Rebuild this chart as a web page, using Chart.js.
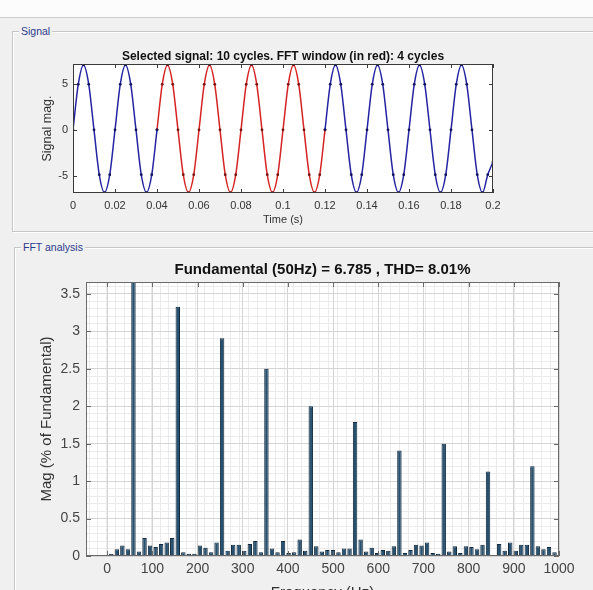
<!DOCTYPE html>
<html>
<head>
<meta charset="utf-8">
<title>Signal and FFT analysis</title>
<script src="https://cdn.jsdelivr.net/npm/chart.js@4.4.1/dist/chart.umd.min.js"></script>
<style>
  html, body { margin: 0; padding: 0; }
  body { width: 593px; height: 590px; overflow: hidden; position: relative; background: #f0f0f0; font-family: "Liberation Sans", Arial, sans-serif; }
  #topStrip { position: absolute; left: 0; top: 0; width: 593px; height: 17px; background: #fcfcfc; border-bottom: 1px solid #cfcfcf; }
  .panel { position: absolute; border: 1px solid #c6c6c6; box-shadow: 1px 1px 0 #ffffff, inset 1px 1px 0 #ffffff; }
  #sigPanel { left: 12px; top: 31px; width: 600px; height: 199px; }
  #fftPanel { left: 14px; top: 247px; width: 600px; height: 400px; }
  .panel span { position: absolute; top: -7px; left: 6px; padding: 0 2px; background: #f0f0f0; color: #2c3a8c; font-size: 10.5px; line-height: 12px; }
  canvas { position: absolute; left: 0; }
  #sigChart { top: 0; }
  #fftChart { top: 240px; }
</style>
</head>
<body>
<div id="topStrip"></div>
<div class="panel" id="sigPanel"><span>Signal</span></div>
<div class="panel" id="fftPanel"><span>FFT analysis</span></div>
<canvas id="sigChart" width="593" height="240"></canvas>
<canvas id="fftChart" width="593" height="370"></canvas>

<script>
// Signal panel data (time in s, magnitude)
const signalTime = [
  0, 0.0025, 0.005, 0.0075, 0.01, 0.0125, 0.015, 0.0175,
  0.02, 0.0225, 0.025, 0.0275, 0.03, 0.0325, 0.035, 0.0375,
  0.04, 0.0425, 0.045, 0.0475, 0.05, 0.0525, 0.055, 0.0575,
  0.06, 0.0625, 0.065, 0.0675, 0.07, 0.0725, 0.075, 0.0775,
  0.08, 0.0825, 0.085, 0.0875, 0.09, 0.0925, 0.095, 0.0975,
  0.1, 0.1025, 0.105, 0.1075, 0.11, 0.1125, 0.115, 0.1175,
  0.12, 0.1225, 0.125, 0.1275, 0.13, 0.1325, 0.135, 0.1375,
  0.14, 0.1425, 0.145, 0.1475, 0.15, 0.1525, 0.155, 0.1575,
  0.16, 0.1625, 0.165, 0.1675, 0.17, 0.1725, 0.175, 0.1775,
  0.18, 0.1825, 0.185, 0.1875, 0.19, 0.1925, 0.195, 0.1975,
  0.2
];
const signalMag = [
  0, 4.98, 7.1, 4.98, 0, -4.9, -6.85, -4.9,
  0, 4.98, 7.1, 4.98, 0, -4.9, -6.85, -4.9,
  0, 4.98, 7.1, 4.98, 0, -4.9, -6.85, -4.9,
  0, 4.98, 7.1, 4.98, 0, -4.9, -6.85, -4.9,
  0, 4.98, 7.1, 4.98, 0, -4.9, -6.85, -4.9,
  0, 4.98, 7.1, 4.98, 0, -4.9, -6.85, -4.9,
  0, 4.98, 7.1, 4.98, 0, -4.9, -6.85, -4.9,
  0, 4.98, 7.1, 4.98, 0, -4.9, -6.85, -4.9,
  0, 4.98, 7.1, 4.98, 0, -4.9, -6.85, -4.9,
  0, 4.98, 7.1, 4.98, 0, -4.9, -6.85, -4.9,
  -3.5
];
const windowStart = 0.04;
const windowEnd = 0.12;
const timeTicks = [0, 0.02, 0.04, 0.06, 0.08, 0.1, 0.12, 0.14, 0.16, 0.18, 0.2];
const signalTicks = [-5, 0, 5];

// FFT panel data (frequency bins in Hz, magnitude in % of fundamental)
const freqBins = [
  0, 12.5, 25, 37.5, 50, 62.5, 75, 87.5,
  100, 112.5, 125, 137.5, 150, 162.5, 175, 187.5,
  200, 212.5, 225, 237.5, 250, 262.5, 275, 287.5,
  300, 312.5, 325, 337.5, 350, 362.5, 375, 387.5,
  400, 412.5, 425, 437.5, 450, 462.5, 475, 487.5,
  500, 512.5, 525, 537.5, 550, 562.5, 575, 587.5,
  600, 612.5, 625, 637.5, 650, 662.5, 675, 687.5,
  700, 712.5, 725, 737.5, 750, 762.5, 775, 787.5,
  800, 812.5, 825, 837.5, 850, 862.5, 875, 887.5,
  900, 912.5, 925, 937.5, 950, 962.5, 975, 987.5,
  1000
];
const fftMag = [
  0.03, 0.09, 0.14, 0.09, 100, 0.06, 0.24, 0.14,
  0.12, 0.16, 0.18, 0.24, 3.33, 0.05, 0.03, 0.03,
  0.14, 0.11, 0.05, 0.18, 2.91, 0.07, 0.15, 0.15,
  0.07, 0.16, 0.2, 0.05, 2.5, 0.1, 0.05, 0.2,
  0.04, 0.05, 0.22, 0.07, 2.0, 0.13, 0.06, 0.08,
  0.08, 0.05, 0.1, 0.1, 1.79, 0.22, 0.06, 0.11,
  0.04, 0.08, 0.07, 0.13, 1.41, 0.04, 0.08, 0.15,
  0.14, 0.18, 0.04, 0.03, 1.5, 0.06, 0.13, 0.04,
  0.13, 0.12, 0.09, 0.15, 1.13, 0.01, 0.16, 0.07,
  0.18, 0.07, 0.15, 0.15, 1.2, 0.13, 0.09, 0.12,
  0.05
];
const freqTicks = [0, 100, 200, 300, 400, 500, 600, 700, 800, 900, 1000];
const pctTicks = [0, 0.5, 1, 1.5, 2, 2.5, 3, 3.5];

Chart.defaults.font.family = '"Liberation Sans", Arial, sans-serif';

// white plot area + matlab style box with inward ticks
const boxPlugin = {
  id: 'box',
  beforeDraw(chart) {
    const { ctx, chartArea: a } = chart;
    ctx.save();
    ctx.fillStyle = '#ffffff';
    ctx.fillRect(a.left, a.top, a.width, a.height);
    ctx.restore();
  },
  afterDatasetsDraw(chart, args, opts) {
    const { ctx, chartArea: a, scales } = chart;
    const len = opts.len;
    ctx.save();
    ctx.strokeStyle = opts.color;
    ctx.lineWidth = 1;
    ctx.beginPath();
    scales.x.ticks.forEach(t => {
      const px = Math.round(scales.x.getPixelForValue(t.value)) + 0.5;
      ctx.moveTo(px, a.bottom); ctx.lineTo(px, a.bottom - len);
      ctx.moveTo(px, a.top); ctx.lineTo(px, a.top + len);
    });
    scales.y.ticks.forEach(t => {
      const py = Math.round(scales.y.getPixelForValue(t.value)) + 0.5;
      ctx.moveTo(a.left, py); ctx.lineTo(a.left + len, py);
      ctx.moveTo(a.right, py); ctx.lineTo(a.right - len, py);
    });
    ctx.stroke();
    ctx.strokeRect(Math.round(a.left) + 0.5, Math.round(a.top) + 0.5, Math.round(a.width) - 1, Math.round(a.height) - 1);
    ctx.restore();
  }
};

// ---- Signal chart ----
const outside = t => t <= windowStart || t >= windowEnd;
const inside = t => t >= windowStart && t <= windowEnd;

new Chart(document.getElementById('sigChart'), {
  type: 'line',
  data: {
    labels: signalTime,
    datasets: [{
      label: 'Signal',
      data: signalMag.map((v, i) => outside(signalTime[i]) ? v : null),
      borderColor: '#2525a2',
      borderWidth: 1.5,
      cubicInterpolationMode: 'monotone',
      pointRadius: 1.4,
      pointBorderWidth: 0,
      pointBackgroundColor: '#12125e'
    }, {
      label: 'FFT window',
      data: signalMag.map((v, i) => inside(signalTime[i]) ? v : null),
      borderColor: '#d62424',
      borderWidth: 1.5,
      cubicInterpolationMode: 'monotone',
      pointRadius: 1.4,
      pointBorderWidth: 0,
      pointBackgroundColor: '#7a1212'
    }]
  },
  options: {
    responsive: false,
    animation: false,
    events: [],
    layout: { padding: { left: 35.8, right: 100, top: 49.6, bottom: 9.7 } },
    plugins: {
      legend: { display: false },
      tooltip: { enabled: false },
      title: {
        display: true,
        fullSize: false,
        text: 'Selected signal: 10 cycles. FFT window (in red): 4 cycles',
        color: '#111',
        font: { size: 12, weight: 'bold' },
        padding: 0
      },
      box: { color: '#3a3a3a', len: 4 }
    },
    scales: {
      x: {
        type: 'linear',
        min: 0,
        max: 0.2,
        afterBuildTicks: ax => { ax.ticks = timeTicks.map(v => ({ value: v })); },
        afterFit: ax => { ax.height = 37.3; },
        grid: { display: false, drawTicks: false },
        border: { display: false },
        ticks: { padding: 6, color: '#333', font: { size: 11 }, autoSkip: false, maxRotation: 0, callback: v => String(v) },
        title: { display: true, text: 'Time (s)', color: '#333', font: { size: 11 } }
      },
      y: {
        min: -6.9,
        max: 7.2,
        afterBuildTicks: ax => { ax.ticks = signalTicks.map(v => ({ value: v })); },
        afterFit: ax => { ax.width = 37.2; },
        grid: { display: false, drawTicks: false },
        border: { display: false },
        ticks: { padding: 5, color: '#333', font: { size: 11 }, callback: v => String(v) },
        title: { display: true, text: 'Signal mag.', color: '#333', font: { size: 12.5 } }
      }
    }
  },
  plugins: [boxPlugin]
});

// ---- FFT chart ----
new Chart(document.getElementById('fftChart'), {
  type: 'bar',
  data: {
    labels: freqBins,
    datasets: [{
      label: 'Mag',
      data: fftMag,
      backgroundColor: '#28506f',
      borderColor: '#132a3e',
      borderWidth: 1,
      barPercentage: 0.8,
      categoryPercentage: 1,
      clip: 0
    }]
  },
  options: {
    responsive: false,
    animation: false,
    events: [],
    layout: { padding: { left: 34, right: 34, top: 21, bottom: 4 } },
    plugins: {
      legend: { display: false },
      tooltip: { enabled: false },
      title: {
        display: true,
        fullSize: false,
        text: 'Fundamental (50Hz) = 6.785 , THD= 8.01%',
        color: '#111',
        font: { size: 15, weight: 'bold' },
        padding: { top: 0, bottom: 3 }
      },
      box: { color: '#6a6a6a', len: 5 }
    },
    scales: {
      x2: {
        type: 'linear', position: 'bottom', min: -47, max: 1000, z: -2,
        ticks: { display: false, stepSize: 20, includeBounds: false },
        grid: { color: '#ebebeb', drawTicks: false },
        border: { display: false },
        afterFit: ax => { ax.height = 0; }
      },
      y2: {
        type: 'linear', position: 'left', min: 0, max: 3.66, z: -2,
        ticks: { display: false, stepSize: 0.1, includeBounds: false },
        grid: { color: '#ebebeb', drawTicks: false },
        border: { display: false },
        afterFit: ax => { ax.width = 0; }
      },
      x: {
        type: 'linear',
        min: -47,
        max: 1000,
        offset: false,
        z: -1,
        afterBuildTicks: ax => { ax.ticks = freqTicks.map(v => ({ value: v })); },
        afterFit: ax => { ax.height = 50; },
        grid: { color: '#d4d4d4', drawTicks: false, offset: false },
        border: { display: false },
        ticks: { padding: 4.6, color: '#444', font: { size: 14 }, autoSkip: false, maxRotation: 0, callback: v => String(v) },
        title: { display: true, text: 'Frequency (Hz)', color: '#333', font: { size: 15 } }
      },
      y: {
        min: 0,
        max: 3.66,
        z: -1,
        afterBuildTicks: ax => { ax.ticks = pctTicks.map(v => ({ value: v })); },
        afterFit: ax => { ax.width = 52; },
        grid: { color: '#d4d4d4', drawTicks: false },
        border: { display: false },
        ticks: { padding: 6, color: '#444', font: { size: 14 }, callback: v => String(v) },
        title: { display: true, text: 'Mag (% of Fundamental)', color: '#333', font: { size: 15 } }
      }
    }
  },
  plugins: [boxPlugin]
});
</script>
</body>
</html>
